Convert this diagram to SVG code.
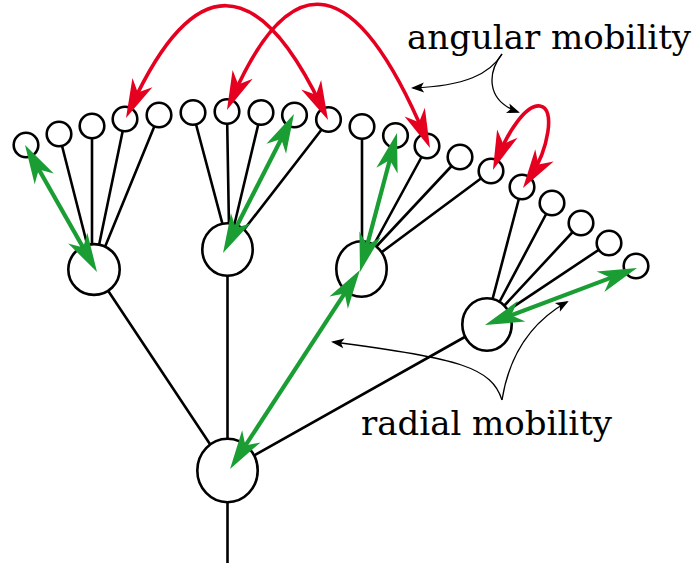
<svg xmlns="http://www.w3.org/2000/svg" width="696" height="563" viewBox="0 0 696 563">
<style>
.edge{stroke:#000;stroke-width:2.6;fill:none;stroke-linecap:round}
.node{fill:#fff;stroke:#000;stroke-width:2.6}
.green{stroke:#1a9e34;stroke-width:4.2;fill:none;marker-start:url(#ag);marker-end:url(#ag)}
.red{stroke:#e6001f;stroke-width:3.6;fill:none;marker-start:url(#ar);marker-end:url(#ar)}
.ann{stroke:#000;stroke-width:1.3;fill:none;marker-end:url(#ak)}
.label{font-family:"DejaVu Serif",serif;font-size:34px;fill:#000}
</style>
<defs>
<marker id="ag" markerUnits="userSpaceOnUse" viewBox="-41 -12 43 24" markerWidth="43" markerHeight="24" refX="-14" refY="0" orient="auto-start-reverse">
<path d="M0,0 L-39,-11 L-28,0 L-39,11 Z" fill="#1a9e34"/>
</marker>
<marker id="ar" markerUnits="userSpaceOnUse" viewBox="-41 -12 43 24" markerWidth="43" markerHeight="24" refX="-14" refY="0" orient="auto-start-reverse">
<path d="M0,0 L-39,-11 L-28,0 L-39,11 Z" fill="#e6001f"/>
</marker>
<marker id="ak" markerUnits="userSpaceOnUse" viewBox="-15 -6 17 12" markerWidth="17" markerHeight="12" refX="-2" refY="0" orient="auto">
<path d="M0,0 L-13,-5 L-10,0 L-13,5 Z" fill="#000"/>
</marker>
</defs>
<rect width="696" height="563" fill="#fff"/>
<g id="edges">
<path class="edge" d="M227.5,500 V563"/>
<path class="edge" d="M94,269.5 L227.5,470.5"/>
<path class="edge" d="M227.5,249.5 L227.5,470.5"/>
<path class="edge" d="M487,324.5 L227.5,470.5"/>
<path class="edge" d="M59,134 L88.5,249.8"/>
<path class="edge" d="M92,126 L92,250"/>
<path class="edge" d="M125,120 L97.8,250.9"/>
<path class="edge" d="M159,115 L102.7,252.6"/>
<path class="edge" d="M193,113 L223.5,227.8"/>
<path class="edge" d="M227,112 L229,228"/>
<path class="edge" d="M261,113 L233.6,227.8"/>
<path class="edge" d="M329,120 L243,231"/>
<path class="edge" d="M362,126 L362,245"/>
<path class="edge" d="M427,147 L372,248"/>
<path class="edge" d="M460,157 L373,250"/>
<path class="edge" d="M491,171 L376.5,256"/>
<path class="edge" d="M522,187 L491.5,303"/>
<path class="edge" d="M552,203 L499.4,302"/>
<path class="edge" d="M581,223 L504,306"/>
<path class="edge" d="M609,243 L508,310.3"/>
</g>
<g id="root"><ellipse class="node" cx="227.5" cy="470.5" rx="30.2" ry="31.7"/></g>
<g id="nodeA"><ellipse class="node" cx="94" cy="269.5" rx="25.7" ry="25.4"/></g>
<g id="nodeB"><ellipse class="node" cx="227.5" cy="249.5" rx="25.2" ry="26.2"/></g>
<g id="nodeC"><ellipse class="node" cx="361.5" cy="269" rx="25.2" ry="27.7"/></g>
<g id="nodeD"><ellipse class="node" cx="487" cy="324.5" rx="24.7" ry="26.2"/></g>
<g id="a1"><circle class="node" cx="26" cy="145" r="12.3"/></g>
<g id="a2"><circle class="node" cx="59" cy="134" r="12.3"/></g>
<g id="a3"><circle class="node" cx="92" cy="126" r="12.3"/></g>
<g id="a4"><circle class="node" cx="125" cy="119" r="12.3"/></g>
<g id="a5"><circle class="node" cx="159" cy="115" r="12.3"/></g>
<g id="b1"><circle class="node" cx="193" cy="112.5" r="12.3"/></g>
<g id="b2"><circle class="node" cx="227" cy="111.5" r="12.3"/></g>
<g id="b3"><circle class="node" cx="261" cy="112.5" r="12.3"/></g>
<g id="b4"><circle class="node" cx="294.5" cy="115" r="12.3"/></g>
<g id="b5"><circle class="node" cx="328.5" cy="119.5" r="12.3"/></g>
<g id="c1"><circle class="node" cx="362" cy="126.5" r="12.3"/></g>
<g id="c2"><circle class="node" cx="395.5" cy="135.5" r="12.3"/></g>
<g id="c3"><circle class="node" cx="427" cy="146" r="12.3"/></g>
<g id="c4"><circle class="node" cx="460" cy="157" r="12.3"/></g>
<g id="c5"><circle class="node" cx="491" cy="171" r="12.3"/></g>
<g id="d1"><circle class="node" cx="522" cy="187" r="12.3"/></g>
<g id="d2"><circle class="node" cx="552" cy="203" r="12.3"/></g>
<g id="d3"><circle class="node" cx="581" cy="223" r="12.3"/></g>
<g id="d4"><circle class="node" cx="609" cy="243" r="12.3"/></g>
<g id="d5"><circle class="node" cx="636" cy="266" r="12.3"/></g>
<g id="mobility-arrows">
<path class="green" d="M31.9,157.2 L90.1,259.8"/>
<path class="green" d="M229.4,240.5 L287.6,126.5"/>
<path class="green" d="M363.6,258.5 L393.4,146.5"/>
<path class="green" d="M237.7,457.3 L352.3,281.7"/>
<path class="green" d="M498.1,320.1 L623.9,272.9"/>
<path class="red" d="M131.9,105.3 Q225,-95 322,107.4"/>
<path class="red" d="M232.6,97.2 Q322,-106 424.5,135.1"/>
<path class="red" d="M498.1,156.9 C508,132 526,104 540,106 C556,108 548,150 530.7,176.3"/>
<path class="ann" d="M502,54 C490,74 465,86 413,88"/>
<path class="ann" d="M502,54 C488,72 485,100 518,112"/>
<path class="ann" d="M502,400 C492,368 460,358 333,342"/>
<path class="ann" d="M502,400 C510,350 535,320 567,302"/>
</g>
<g id="labels">
<text class="label" x="407" y="49">angular mobility</text>
<text class="label" x="361" y="435">radial mobility</text>
</g>
</svg>
